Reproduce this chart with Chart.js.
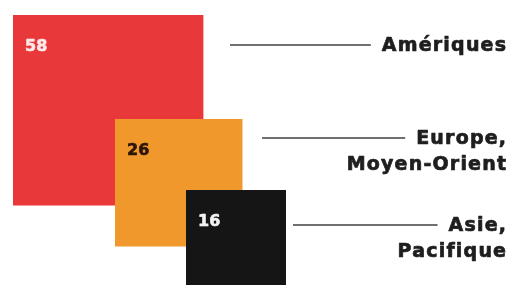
<!DOCTYPE html>
<html>
<head>
<meta charset="utf-8">
<script src="https://cdn.jsdelivr.net/npm/chart.js@4.4.0/dist/chart.umd.min.js"></script>
<style>
  html, body { margin: 0; padding: 0; background: #fff; }
  #wrap { width: 511px; height: 285px; }
</style>
</head>
<body>
<div id="wrap"><canvas id="chart"></canvas></div>
<script>
const regions = ["Amériques", "Europe,\nMoyen-Orient", "Asie,\nPacifique"];
const shares = [58, 26, 16];
const valueLabels = ["58", "26", "16"];

// layout: top-left corner of each square in chart units (1 unit = 25px)
const anchors = [[0.52, 0.6], [4.6, 4.76], [7.44, 7.6]];
const colors = ["#e8383a", "#f0982c", "#151515"];
const numberColors = ["#ffeaea", "#2a1508", "#f2f2f2"];
// leader lines, in px
const leaderY = [45, 138, 225];
const leaderStart = [230, 262, 293];

// a square whose area is the share
function squareOf(i) {
    const side = Math.sqrt(shares[i]);
    const [x0, y0] = anchors[i];
    return [
        { x: x0, y: y0 },
        { x: x0 + side, y: y0 },
        { x: x0 + side, y: y0 + side },
        { x: x0, y: y0 + side },
        { x: x0, y: y0 },
    ];
}

// heavy text: fill plus a thin stroke of the same colour
function heavyText(ctx, txt, x, y, color, weight) {
    ctx.fillStyle = color;
    ctx.strokeStyle = color;
    ctx.lineWidth = weight;
    ctx.lineJoin = "round";
    ctx.strokeText(txt, x, y);
    ctx.fillText(txt, x, y);
}

const labelsPlugin = {
    id: "labels",
    afterDatasetsDraw(chart) {
        const ctx = chart.ctx;
        const xs = chart.scales.x;
        const ys = chart.scales.y;
        ctx.save();

        // numbers inside the squares
        ctx.font = "bold 16px 'DejaVu Sans'";
        ctx.textAlign = "left";
        ctx.textBaseline = "alphabetic";
        shares.forEach((v, i) => {
            const px = xs.getPixelForValue(anchors[i][0]);
            const py = ys.getPixelForValue(anchors[i][1]);
            heavyText(ctx, valueLabels[i], px + 12, py + 36, numberColors[i], 0.6);
        });

        // region names with leader lines
        const right = 506;
        const spacing = 1.2;
        ctx.font = "bold 19px 'DejaVu Sans'";
        ctx.letterSpacing = spacing + "px";
        ctx.textAlign = "right";
        regions.forEach((name, i) => {
            const lines = name.split("\n");
            lines.forEach((ln, j) => {
                heavyText(ctx, ln, right + spacing, leaderY[i] + 6 + j * 26, "#1e1e1e", 0.7);
            });
            const w = ctx.measureText(lines[0]).width;
            ctx.beginPath();
            ctx.strokeStyle = "#707070";
            ctx.lineWidth = 2;
            ctx.moveTo(leaderStart[i], leaderY[i]);
            ctx.lineTo(right + spacing - w - 11, leaderY[i]);
            ctx.stroke();
        });
        ctx.restore();
    },
};

new Chart(document.getElementById("chart"), {
    type: "line",
    data: {
        datasets: shares.map((v, i) => ({
            label: regions[i],
            data: squareOf(i),
            backgroundColor: colors[i],
            borderColor: colors[i],
            borderWidth: 0,
            pointRadius: 0,
            pointHoverRadius: 0,
            fill: "shape",
            tension: 0,
            order: shares.length - i,
        })),
    },
    options: {
        responsive: true,
        maintainAspectRatio: false,
        animation: false,
        events: [],
        layout: { padding: 0 },
        plugins: {
            legend: { display: false },
            tooltip: { enabled: false },
        },
        scales: {
            x: { type: "linear", min: 0, max: 20.44, display: false },
            y: { type: "linear", min: 0, max: 11.4, reverse: true, display: false },
        },
    },
    plugins: [labelsPlugin],
});
</script>
</body>
</html>
